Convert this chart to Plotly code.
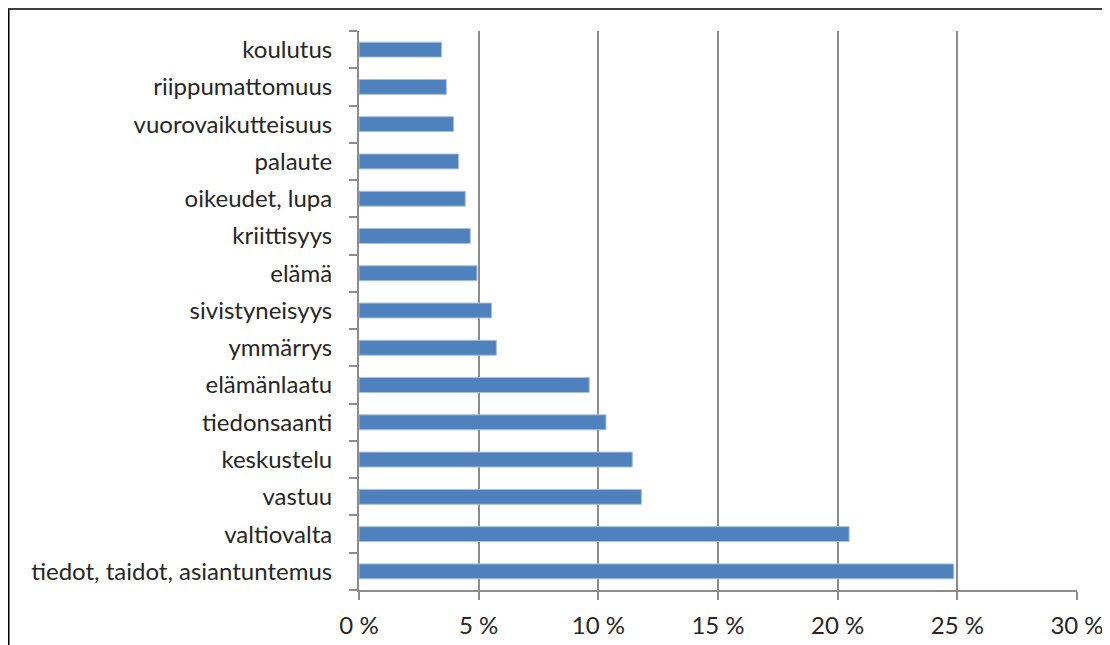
import plotly.graph_objects as go

categories = ["tiedot, taidot, asiantuntemus", "valtiovalta", "vastuu", "keskustelu",
              "tiedonsaanti", "elämänlaatu", "ymmärrys", "sivistyneisyys", "elämä",
              "kriittisyys", "oikeudet, lupa", "palaute", "vuorovaikutteisuus",
              "riippumattomuus", "koulutus"]
values = [24.85, 20.48, 11.8, 11.42, 10.32, 9.62, 5.74, 5.54, 4.93, 4.65, 4.44, 4.16, 3.95, 3.65, 3.45]
x_ticks = [0, 5, 10, 15, 20, 25, 30]
x_tick_labels = ["0 %", "5 %", "10 %", "15 %", "20 %", "25 %", "30 %"]

FONT = "Lato"
GRID = "#8c8c8c"

fig = go.Figure(go.Bar(
    x=values, y=categories, orientation="h",
    marker=dict(color="#4F81BD", line=dict(color="#A7C0DE", width=1)),
    width=0.4,
))

fig.update_layout(
    width=1110, height=645,
    margin=dict(l=351, r=41, t=23, b=63),
    paper_bgcolor="white", plot_bgcolor="white",
    showlegend=False,
    font=dict(family=FONT, size=24, color="#262626"),
    xaxis=dict(range=[0, 30], tickvals=x_ticks, ticktext=x_tick_labels,
               showgrid=True, gridcolor=GRID, gridwidth=2,
               showline=True, linecolor=GRID, linewidth=2,
               ticks="outside", ticklen=8, tickwidth=2, tickcolor=GRID,
               zeroline=False, fixedrange=True, ticklabelstandoff=5),
    yaxis=dict(type="category", categoryorder="array", categoryarray=categories,
               showline=True, linecolor=GRID, linewidth=2,
               ticks="outside", ticklen=8, tickwidth=2, tickcolor=GRID,
               tickson="boundaries", showgrid=False, ticklabelstandoff=20,
               range=[-0.5, len(categories) - 0.5]),
    shapes=[dict(type="rect", xref="paper", yref="paper",
                 x0=-0.4878, x1=1.2, y0=-0.3, y1=1.0394,
                 line=dict(color="black", width=1.5), fillcolor="rgba(0,0,0,0)",
                 layer="above")],
)

fig.write_html("out.html")
